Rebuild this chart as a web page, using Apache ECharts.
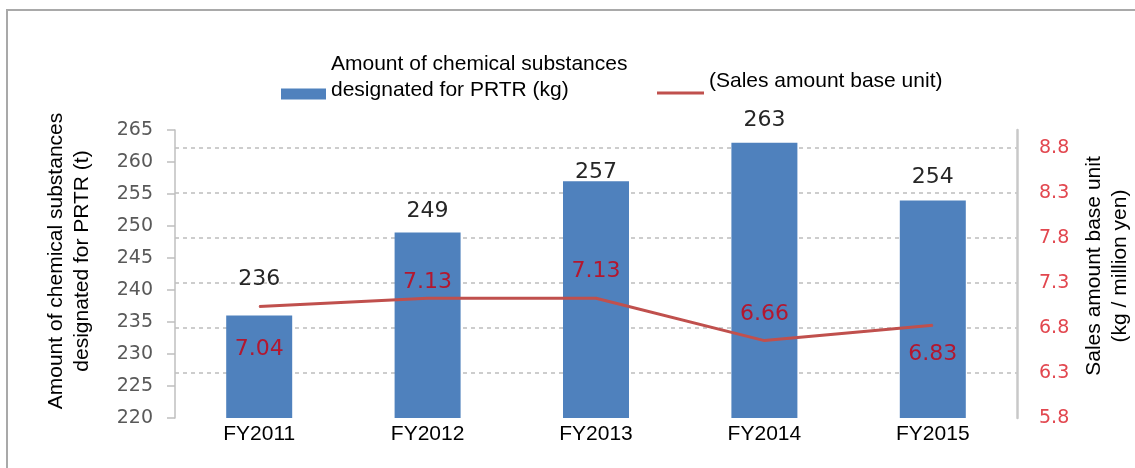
<!DOCTYPE html>
<html>
<head>
<meta charset="utf-8">
<script src="https://cdn.jsdelivr.net/npm/echarts@6/dist/echarts.min.js"></script>
<style>
html,body{margin:0;padding:0;background:#fff;}
#chart{width:1135px;height:468px;}
</style>
</head>
<body>
<div id="chart"></div>
<script>
// ---- data ----
const categories = ['FY2011', 'FY2012', 'FY2013', 'FY2014', 'FY2015'];
const prtrAmount = [236, 249, 257, 263, 254];          // t (bars, left axis)
const salesUnit = [7.04, 7.13, 7.13, 6.66, 6.83];       // kg / million yen (line, right axis)
const barSeriesName = 'Amount of chemical substances\ndesignated for PRTR (kg)';
const lineSeriesName = '(Sales amount base unit)';
const leftAxisName = 'Amount of chemical substances\ndesignated for PRTR (t)';
const rightAxisName = 'Sales amount base unit\n(kg / million yen)';
const leftAxisMin = 220, leftAxisMax = 265, leftAxisStep = 5;
const rightAxisMin = 5.8, rightAxisMax = 9.0, rightAxisStep = 0.5;

// ---- label placement (style only) ----
const barLabelDistance = [25, 10, -2, 12, 12];
const lineLabelPlace = [['bottom', 31], ['top', 5], ['top', 16], ['top', 15], ['bottom', 17]];

const chart = echarts.init(document.getElementById('chart'), null, {renderer: 'canvas'});

const arial = 'Liberation Sans, Arial, sans-serif';
const verdana = 'DejaVu Sans, Verdana, sans-serif';

const option = {
  backgroundColor: '#ffffff',
  animation: false,
  graphic: [{
    type: 'rect',
    shape: {x: 7, y: 10, width: 1200, height: 520},
    style: {fill: 'none', stroke: '#a9a9a9', lineWidth: 2},
    silent: true,
    z: -10
  }],
  legend: [{
    data: [barSeriesName],
    left: 281, top: 51, padding: 0,
    itemWidth: 45, itemHeight: 19,
    icon: 'path://M0,0M0,8L45,8L45,19L0,19Z',
    formatter: n => n + '\n\u00a0',
    textStyle: {fontFamily: arial, fontSize: 21, color: '#000', lineHeight: 26}
  }, {
    data: [lineSeriesName],
    left: 657, top: 69, padding: 0,
    itemWidth: 47, itemHeight: 3,
    icon: 'rect',
    formatter: n => n + '\n\u00a0',
    textStyle: {fontFamily: arial, fontSize: 21, color: '#000', lineHeight: 24}
  }],
  grid: {left: 175, right: 118, top: 130, bottom: 50, containLabel: false, outerBoundsMode: 'none'},
  xAxis: {
    type: 'category',
    data: categories,
    axisLine: {show: false},
    axisTick: {show: false},
    axisLabel: {fontFamily: arial, fontSize: 21, color: '#000', margin: 6}
  },
  yAxis: [{
    type: 'value',
    min: leftAxisMin, max: leftAxisMax, interval: leftAxisStep,
    name: leftAxisName,
    nameLocation: 'middle',
    nameGap: 80,
    nameTextStyle: {fontFamily: arial, fontSize: 21, color: '#000', lineHeight: 26, padding: [0, 0, 0, 26]},
    axisLine: {show: true, lineStyle: {color: '#bfbfbf', width: 1.5}},
    axisTick: {show: true, length: 8, lineStyle: {color: '#bfbfbf', width: 1.5}},
    axisLabel: {fontFamily: verdana, fontSize: 19, color: '#595959', margin: 22},
    splitLine: {show: false}
  }, {
    type: 'value',
    position: 'right',
    min: rightAxisMin, max: rightAxisMax, interval: rightAxisStep,
    name: rightAxisName,
    nameLocation: 'middle',
    nameGap: 64,
    nameTextStyle: {fontFamily: arial, fontSize: 21, color: '#000', lineHeight: 26, padding: [0, 0, 0, 16]},
    axisLine: {show: true, lineStyle: {color: '#c8c8c8', width: 2.5}},
    axisTick: {show: false},
    axisLabel: {
      fontFamily: verdana, fontSize: 19, color: '#e2474f', margin: 22,
      showMaxLabel: false,
      formatter: v => v.toFixed(1)
    },
    splitLine: {show: true, showMinLine: false, showMaxLine: false,
      lineStyle: {color: '#bdbdbd', width: 1.5, type: [4, 4]}}
  }],
  series: [{
    name: barSeriesName,
    type: 'bar',
    yAxisIndex: 0,
    barWidth: 66,
    itemStyle: {color: '#4f81bd'},
    data: prtrAmount.map((v, i) => ({
      value: v,
      label: {show: true, position: 'top', distance: barLabelDistance[i]}
    })),
    label: {fontFamily: verdana, fontSize: 22, color: '#262626'},
    z: 2
  }, {
    name: lineSeriesName,
    type: 'line',
    yAxisIndex: 1,
    symbol: 'circle',
    symbolSize: 1,
    showSymbol: true,
    lineStyle: {color: '#c0504d', width: 3},
    itemStyle: {color: '#c0504d'},
    data: salesUnit.map((v, i) => ({
      value: v,
      label: {show: true, position: lineLabelPlace[i][0], distance: lineLabelPlace[i][1]}
    })),
    label: {show: true, fontFamily: verdana, fontSize: 22, color: '#b3172f',
      formatter: p => Number(p.value).toFixed(2)},
    z: 3
  }]
};
chart.setOption(option);
</script>
</body>
</html>
